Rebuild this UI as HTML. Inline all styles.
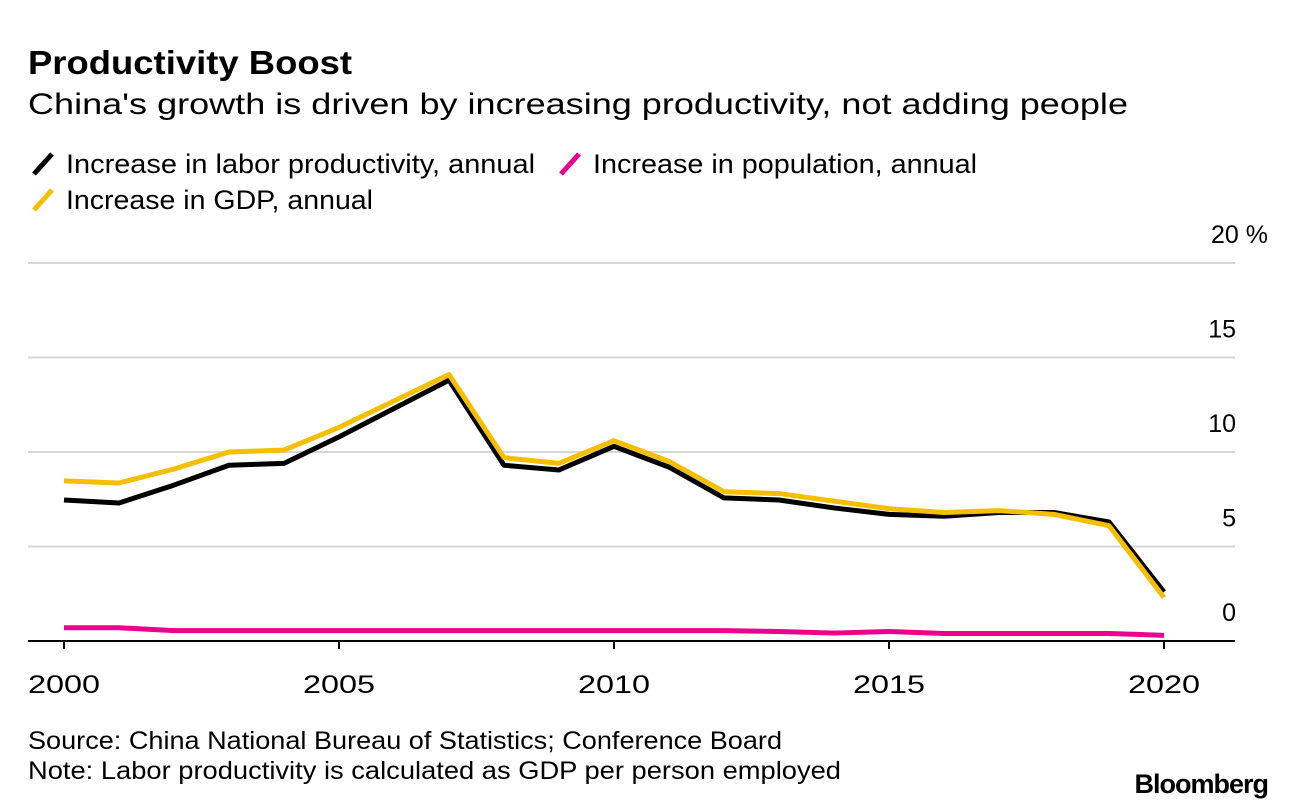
<!DOCTYPE html>
<html><head><meta charset="utf-8"><style>
body{margin:0;background:#fff;font-family:"Liberation Sans",sans-serif;}
svg{display:block}
</style></head><body>
<svg width="1296" height="810" id="c">
<text x="28" y="74" font-size="33" font-weight="bold" fill="#000" textLength="324" lengthAdjust="spacingAndGlyphs">Productivity Boost</text>
<text x="28" y="114" font-size="30" fill="#000" textLength="1100" lengthAdjust="spacingAndGlyphs">China's growth is driven by increasing productivity, not adding people</text>
<g font-size="27">
<g><line x1="34" y1="174" x2="52" y2="154" stroke="#000" stroke-width="5"/><text x="66" y="173" textLength="469" lengthAdjust="spacingAndGlyphs">Increase in labor productivity, annual</text></g>
<g><line x1="561" y1="174" x2="579" y2="154" stroke="#ec008c" stroke-width="5"/><text x="593" y="173" textLength="384" lengthAdjust="spacingAndGlyphs">Increase in population, annual</text></g>
<g><line x1="34" y1="210" x2="52" y2="190" stroke="#f5bf00" stroke-width="5"/><text x="66" y="209" textLength="307" lengthAdjust="spacingAndGlyphs">Increase in GDP, annual</text></g>
</g>
<g id="grid"></g>
<g id="series"></g>
<text x="28" y="749" font-size="25" textLength="754" lengthAdjust="spacingAndGlyphs">Source: China National Bureau of Statistics; Conference Board</text>
<text x="28" y="779" font-size="25" textLength="813" lengthAdjust="spacingAndGlyphs">Note: Labor productivity is calculated as GDP per person employed</text>
<text x="1268" y="793" font-size="27" font-weight="bold" text-anchor="end" letter-spacing="-1">Bloomberg</text>
</svg>
<script>
const years=[2000,2001,2002,2003,2004,2005,2006,2007,2008,2009,2010,2011,2012,2013,2014,2015,2016,2017,2018,2019,2020];
const productivity=[7.46,7.3,8.25,9.3,9.4,10.8,12.3,13.8,9.3,9.05,10.3,9.2,7.57,7.46,7.04,6.7,6.6,6.8,6.8,6.3,2.6];
const gdp=[8.47,8.36,9.1,10.0,10.1,11.3,12.7,14.1,9.7,9.4,10.6,9.5,7.9,7.8,7.4,7.0,6.8,6.9,6.7,6.1,2.3];
const population=[0.7,0.7,0.55,0.55,0.55,0.55,0.55,0.55,0.55,0.55,0.55,0.55,0.55,0.5,0.42,0.5,0.4,0.4,0.4,0.4,0.3];
const yTicks=[0,5,10,15,20];
const xTicks=[2000,2005,2010,2015,2020];
const NS="http://www.w3.org/2000/svg";
const X=y=>64+(y-2000)*55;
const Y=v=>641-v*18.9;
const grid=document.getElementById('grid'),series=document.getElementById('series');
function mk(tag,attrs,parent){const e=document.createElementNS(NS,tag);for(const k in attrs)e.setAttribute(k,attrs[k]);parent.appendChild(e);return e;}
yTicks.forEach(t=>{
  if(t>0){const l=mk('line',{x1:28,x2:1235,y1:Y(t),y2:Y(t),stroke:'#d6d6d6','stroke-width':2},grid);
  
  }
  const tx=mk('text',{x:1236,y:Y(t)-20,'font-size':25,'text-anchor':'end'},grid);
  tx.textContent=t===20?'20 %':String(t);
  if(t===20){tx.setAttribute('x',1268);}
  
  
});
const ax=mk('line',{x1:28,x2:1235,y1:641,y2:641,stroke:'#000','stroke-width':2},grid);


xTicks.forEach(t=>{
  const tk=mk('line',{x1:X(t),x2:X(t),y1:641,y2:649,stroke:'#000','stroke-width':2},grid);
  
  
  const tx=mk('text',{x:X(t),y:693,'font-size':25,'text-anchor':'middle',textLength:72,lengthAdjust:'spacingAndGlyphs'},grid);
  tx.textContent=t;
  
  
});
function line(vals,color,name){
  const p=mk('polyline',{points:vals.map((v,i)=>X(years[i])+','+Y(v)).join(' '),fill:'none',stroke:color,'stroke-width':5,'stroke-linejoin':'round'},series);
  
  
}
line(population,'#ec008c','population-line');
line(productivity,'#000','productivity-line');
line(gdp,'#f5bf00','gdp-line');
</script>
</body></html>
